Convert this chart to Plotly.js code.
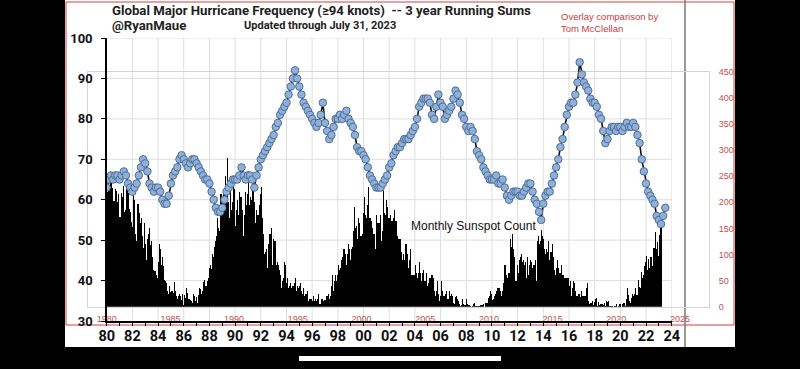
<!DOCTYPE html>
<html>
<head>
<meta charset="utf-8">
<script src="https://cdn.plot.ly/plotly-3.0.1.min.js"></script>
<style>html,body{margin:0;padding:0;background:#000;}#chart{width:800px;height:369px;}</style>
</head>
<body>
<div id="chart"></div>
<script>
// ---------- DATA ----------
// Global major hurricane 3-year running sums, sampled every 2 months from Jan 1980 to Jul 2023
const hurricaneStartYear = 1980;
const hurricaneSums = [
  63,65,66,65,66,66,  65,66,67,66,64,63,  62,63,64,66,68,70,  69,67,64,63,62,63,
  63,62,60,59,59,61,  64,66,67,68,70,71,  70,69,68,69,70,70,  69,68,67,66,65,65,
  64,62,60,58,57,57,  58,60,62,63,64,65,  65,65,66,68,66,65,  66,66,65,63,66,68,
  70,71,72,73,74,75,  76,78,79,81,82,83,  84,86,88,90,92,90,  88,86,84,83,82,81,
  80,79,78,79,81,84,  79,77,75,76,78,80,  80,81,80,81,82,80,  79,78,76,73,72,72,
  71,70,68,66,65,64,  63,63,63,64,65,66,  68,69,71,72,73,73,  74,75,75,75,76,77,
  78,80,83,84,85,85,  85,84,81,80,83,86,  84,83,80,81,82,83,  85,87,86,84,81,80,
  78,77,78,77,75,72,  71,70,68,67,66,65,  65,65,66,64,64,65,  63,61,60,61,62,62,
  62,61,61,62,63,64,  64,62,60,59,57,55,  59,61,62,62,64,66,  68,70,73,75,78,81,
  83,84,84,86,89,94,  91,89,88,87,85,84,  84,83,81,80,77,74,  75,77,78,78,77,78,
  78,77,78,79,78,78,  79,78,76,74,70,67,  64,62,61,60,59,56,  55,54,56,58
];
// Monthly sunspot count, Jan 1980 .. Jul 2023
const sunspotStartYear = 1980;
const sunspotMonthly = [
  220,250,232,245,258,227,202,203,226,221,200,215,
  172,218,210,232,181,185,240,252,218,188,182,162,
  152,215,205,140,125,196,180,160,170,135,112,160,
  120,90,130,140,150,118,125,95,70,68,60,55,
  85,120,110,80,95,78,52,50,45,30,25,40,
  28,30,27,48,30,20,14,20,24,20,12,25,
  4,22,16,36,26,14,12,10,8,25,20,10,
  18,8,22,35,33,25,30,48,52,40,50,55,
  75,80,72,100,95,115,125,136,170,150,145,215,
  215,205,215,250,200,285,200,170,230,185,200,230,
  225,155,185,205,175,220,210,185,135,175,220,195,
  215,240,195,210,205,230,230,200,160,185,175,195,
  215,230,170,140,100,105,110,75,120,140,140,150,
  80,130,125,80,85,80,70,60,35,50,55,85,
  80,45,55,35,40,45,35,40,45,55,30,40,
  35,40,45,30,25,35,20,25,25,30,10,15,
  15,10,20,10,15,10,15,25,5,5,15,15,
  10,12,12,20,25,15,20,40,60,30,50,60,
  50,60,80,70,75,90,95,110,100,80,100,120,
  110,90,110,115,145,190,150,155,130,170,160,135,
  140,180,210,175,170,195,230,170,170,165,150,140,
  140,110,175,160,160,175,125,145,240,180,175,205,
  190,170,170,175,165,165,170,185,165,135,130,130,
  130,105,90,100,90,120,120,100,75,90,110,60,
  60,60,80,65,55,65,85,65,50,65,70,50,
  50,65,40,45,55,60,60,55,30,20,30,50,
  25,10,20,50,30,20,20,25,30,15,30,20,
  25,20,8,5,18,20,15,10,5,2,4,15,
  5,3,15,5,4,4,1,0,2,5,8,2,
  2,2,1,1,4,4,5,0,7,7,7,16,
  20,30,25,12,15,20,25,30,35,35,30,20,
  30,45,80,80,60,55,65,65,130,115,140,110,
  95,50,80,65,90,95,100,85,90,80,85,55,
  95,60,80,90,85,75,80,90,50,125,135,120,
  125,147,135,130,110,100,110,105,125,90,105,120,
  95,70,60,75,90,75,65,65,80,60,60,55,
  55,55,55,40,50,20,35,50,45,30,20,20,
  25,25,18,30,20,20,20,35,45,10,6,8,
  7,10,3,9,14,16,1,9,3,5,5,3,
  8,1,10,9,10,1,1,1,1,0,1,1,
  6,0,2,5,0,6,8,8,1,15,35,22,
  10,8,17,25,21,25,35,23,52,38,35,67,
  55,60,78,85,97,70,91,75,96,95,78,113,
  144,111,123,98,137,163,159
];
const hurricaneTickYears = [1980,1982,1984,1986,1988,1990,1992,1994,1996,1998,2000,2002,2004,2006,2008,2010,2012,2014,2016,2018,2020,2022,2024];
const hurricaneTickLabels = ['80','82','84','86','88','90','92','94','96','98','00','02','04','06','08','10','12','14','16','18','20','22','24'];
const hurricaneYTicks = [30,40,50,60,70,80,90,100];
const sunspotTickYears = [1980,1985,1990,1995,2000,2005,2010,2015,2020,2025];
const sunspotTickLabels = ['1980','1985','1990','1995','2000','2005','2010','2015','2020','2025'];
const sunspotYTicks = [0,50,100,150,200,250,300,350,400,450];

// ---------- LAYOUT HELPERS ----------
const W = 800, H = 369;
const px = v => v / W;
const py = v => 1 - v / H;

const hx = hurricaneSums.map((_, i) => hurricaneStartYear + i / 6);
const sx = sunspotMonthly.map((_, i) => sunspotStartYear + i / 12 + 1 / 24);

const RED = '#c0504d';
const hDomY = [py(321), py(38)];
const hDomX = [px(106.7), px(671.7)];

const shapes = [];
// white screenshot area
shapes.push({type:'rect', xref:'paper', yref:'paper', x0:px(65), x1:px(735), y0:py(347), y1:py(0), fillcolor:'#fff', line:{width:0}, layer:'below'});
// hurricane gridlines
hurricaneTickYears.slice(1).forEach(t => shapes.push({type:'line', xref:'x2', yref:'paper', x0:t, x1:t, y0:hDomY[0], y1:hDomY[1], line:{color:'#dedede', width:1}, layer:'below'}));
hurricaneYTicks.slice(1).forEach(t => shapes.push({type:'line', xref:'paper', yref:'y2', x0:hDomX[0], x1:hDomX[1], y0:t, y1:t, line:{color:'#dedede', width:1}, layer:'below'}));
// hurricane image edge
shapes.push({type:'line', xref:'paper', yref:'paper', x0:px(685), x1:px(685), y0:py(0), y1:py(347), line:{color:'#777', width:1.5}, layer:'below'});
// red overlay border
shapes.push({type:'rect', xref:'paper', yref:'paper', x0:px(66), x1:px(734), y0:py(325), y1:py(2), fillcolor:'rgba(0,0,0,0)', line:{color:'#d04040', width:1}, layer:'below'});
// phone home indicator
shapes.push({type:'rect', xref:'paper', yref:'paper', x0:px(299), x1:px(501), y0:py(361), y1:py(356), fillcolor:'#fff', line:{width:0}, layer:'above'});

const annotations = [
  {text:'Global Major Hurricane Frequency (≥94 knots)\u00a0\u00a0-- 3 year Running Sums', x:px(110), y:py(10), xanchor:'left', yanchor:'middle', font:{family:'Roboto', size:13.2, color:'#222', weight:700}},
  {text:'@RyanMaue', x:px(110), y:py(26), xanchor:'left', yanchor:'middle', font:{family:'Roboto', size:13.2, color:'#222', weight:700}},
  {text:'Updated through July 31, 2023', x:px(242), y:py(26), xanchor:'left', yanchor:'middle', font:{family:'Roboto', size:11, color:'#222', weight:700}},
  {text:'Overlay comparison by', x:px(559), y:py(16), xanchor:'left', yanchor:'middle', font:{family:'Liberation Sans', size:9.5, color:'#c83c3c'}},
  {text:'Tom McClellan', x:px(559), y:py(29), xanchor:'left', yanchor:'middle', font:{family:'Liberation Sans', size:9.5, color:'#c83c3c'}},
  {text:'Monthly Sunspot Count', x:px(409), y:py(226), xanchor:'left', yanchor:'middle', font:{family:'Liberation Sans', size:12, color:'#111'}}
].map(a => Object.assign({xref:'paper', yref:'paper', showarrow:false}, a));

const traces = [
  {type:'bar', x:sx, y:sunspotMonthly, xaxis:'x', yaxis:'y', width:1/12,
   marker:{color:'#000', line:{width:0}}, hoverinfo:'skip'},
  {type:'scatter', mode:'lines+markers', x:hx, y:hurricaneSums, xaxis:'x2', yaxis:'y2',
   line:{color:'#111', width:1.6},
   marker:{size:7.5, color:'#8fb0d9', line:{color:'#4f6f99', width:1}}}
];

const sRangeL = 1980 - (106.7 - 88) / 12.74;
const sRangeR = 2025 + (709 - 680) / 12.74;

const layout = {
  width: W, height: H,
  margin: {l:0, r:0, t:0, b:0, pad:0},
  paper_bgcolor: '#000',
  plot_bgcolor: 'rgba(0,0,0,0)',
  showlegend: false,
  bargap: 0,
  xaxis: {domain:[px(88), px(709)], range:[sRangeL, sRangeR], anchor:'y',
    tickmode:'array', tickvals:sunspotTickYears, ticktext:sunspotTickLabels,
    tickfont:{family:'Liberation Sans', size:9, color:RED}, ticks:'', ticklabelstandoff:3,
    showgrid:false, zeroline:false, showline:true, mirror:true, linecolor:'#d4d4d4', linewidth:1},
  yaxis: {domain:[py(306.7), py(71.7)], range:[0, 450], anchor:'x', side:'right',
    tickmode:'array', tickvals:sunspotYTicks,
    tickfont:{family:'Liberation Sans', size:9, color:RED}, ticks:'', ticklabelstandoff:7,
    showgrid:false, zeroline:false, showline:true, mirror:true, linecolor:'#d4d4d4', linewidth:1},
  xaxis2: {domain:hDomX, range:[1980, 2024], anchor:'y2',
    tickmode:'array', tickvals:hurricaneTickYears, ticktext:hurricaneTickLabels,
    tickfont:{family:'Roboto', size:14.5, color:'#111', weight:700},
    ticks:'outside', ticklen:3, tickcolor:'#000', ticklabelstandoff:-2,
    minor:{ticks:'outside', ticklen:3, tickmode:'linear', tick0:1980, dtick:1, tickcolor:'#000', showgrid:false},
    showgrid:false, zeroline:false, showline:true, linecolor:'#000', linewidth:1.5},
  yaxis2: {domain:hDomY, range:[30, 100], anchor:'x2', side:'left',
    tickmode:'array', tickvals:hurricaneYTicks,
    tickfont:{family:'Roboto', size:13, color:'#111', weight:700},
    ticks:'outside', ticklen:4, tickcolor:'#000', ticklabelstandoff:6,
    showgrid:false, zeroline:false, showline:true, linecolor:'#000', linewidth:1.5},
  shapes: shapes,
  annotations: annotations
};

Plotly.newPlot('chart', traces, layout, {staticPlot:true, displayModeBar:false});
</script>
</body>
</html>
